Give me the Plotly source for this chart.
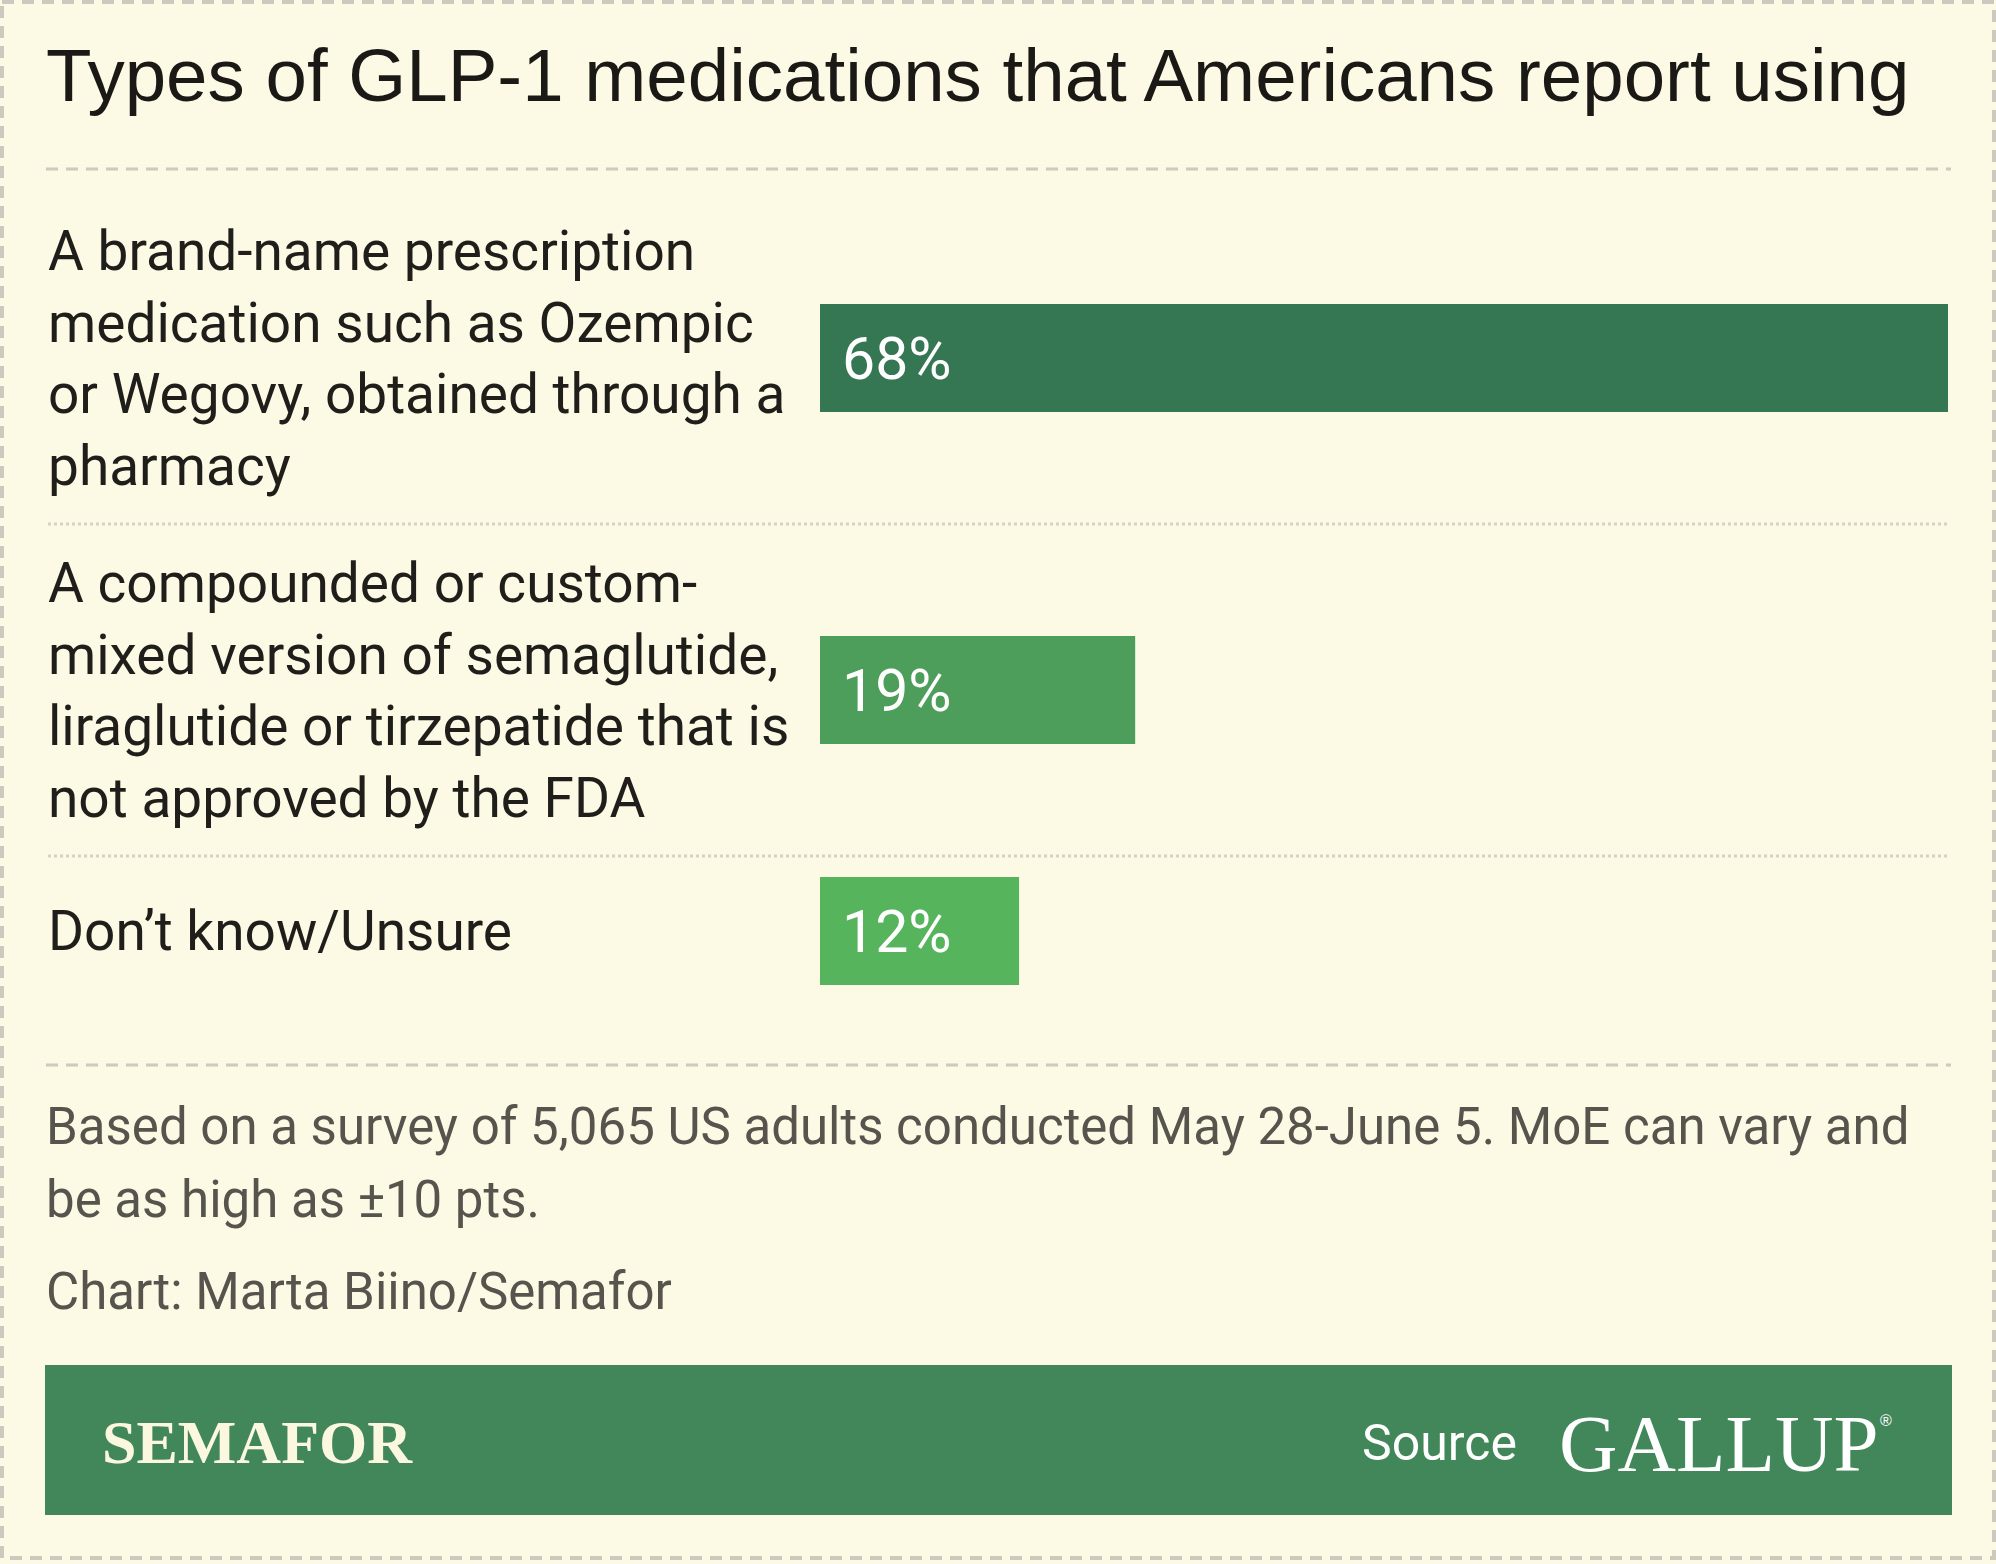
import plotly.graph_objects as go

# ---------------- data ----------------
categories = [
    "A brand-name prescription<br>medication such as Ozempic<br>or Wegovy, obtained through a<br>pharmacy",
    "A compounded or custom-<br>mixed version of semaglutide,<br>liraglutide or tirzepatide that is<br>not approved by the FDA",
    "Don’t know/Unsure",
]
values = [68, 19, 12]
value_labels = ["68%", "19%", "12%"]
bar_colors = ["#347752", "#4e9e5b", "#56b45d"]

title_text = "Types of GLP-1 medications that Americans report using"
note_lines = [
    "Based on a survey of 5,065 US adults conducted May 28-June 5. MoE can vary and",
    "be as high as ±10 pts.",
]
credit_text = "Chart: Marta Biino/Semafor"
brand_text = "SEMAFOR"
source_label = "Source"
source_name = "GALLUP"

# ---------------- layout helpers ----------------
W, H = 1996, 1564
BG = "#fcf9e4"
LABEL_FONT = "Roboto, 'IBM Plex Sans', sans-serif"


def px(x):
    return x / W


def py(y):
    return 1 - y / H


LINE_H = 72.5
BAR_H = 108
ROW_GAP = 42
top = 213
centers, seps = [], []
for i, c in enumerate(categories):
    n = c.count("<br>") + 1
    h = max(n * LINE_H, BAR_H)
    centers.append(top + h / 2)
    top += h
    if i < len(categories) - 1:
        seps.append(top + ROW_GAP / 2)
        top += ROW_GAP

fig = go.Figure(
    go.Bar(
        x=values,
        y=centers,
        orientation="h",
        width=BAR_H,
        marker=dict(color=bar_colors, line=dict(width=0)),
        hoverinfo="skip",
    )
)

fig.update_layout(
    width=W,
    height=H,
    margin=dict(l=0, r=0, t=0, b=0),
    paper_bgcolor=BG,
    plot_bgcolor="rgba(0,0,0,0)",
    showlegend=False,
    xaxis=dict(domain=[px(820), px(1948)], range=[0, max(values)], visible=False, fixedrange=True),
    yaxis=dict(domain=[0, 1], range=[H, 0], visible=False, fixedrange=True),
)

shapes = []
# outer dashed border
shapes.append(dict(type="rect", xref="paper", yref="paper", x0=px(2), x1=px(W - 2), y0=py(2), y1=py(1558),
                   line=dict(color="#ccc9bf", width=4, dash="12px,8px"), fillcolor="rgba(0,0,0,0)"))
# title separator and bottom separator (dashed)
for yy in (169, 1065):
    shapes.append(dict(type="line", xref="paper", yref="paper", x0=px(46), x1=px(1951), y0=py(yy), y1=py(yy),
                       line=dict(color="#cdcac0", width=3, dash="12px,8px")))
# row separators (dotted)
for s in seps:
    shapes.append(dict(type="line", xref="paper", yref="paper", x0=px(48), x1=px(1948), y0=py(s), y1=py(s),
                       line=dict(color="#d6d3c5", width=3, dash="3px,3px")))
# footer band
shapes.append(dict(type="rect", xref="paper", yref="paper", x0=px(45), x1=px(1952), y0=py(1515), y1=py(1365),
                   line=dict(width=0), fillcolor="#42875a", layer="below"))
fig.update_layout(shapes=shapes)

ann = []
ann.append(dict(text=title_text, xref="paper", yref="paper", x=px(44), y=py(76), xanchor="left", yanchor="middle",
                showarrow=False, font=dict(family="'Liberation Sans', Arial, sans-serif", size=74.5, color="#1a1916")))
for c, yc in zip(categories, centers):
    ann.append(dict(text=c, xref="paper", yref="y", x=px(46), y=yc, xanchor="left", yanchor="middle", align="left",
                    showarrow=False, font=dict(family=LABEL_FONT, size=55, color="#1f1e1a")))
for v, lab, yc in zip(values, value_labels, centers):
    ann.append(dict(text=lab, xref="x", yref="y", x=0, y=yc, xshift=20, xanchor="left", yanchor="middle",
                    showarrow=False, font=dict(family=LABEL_FONT, size=59, color="#ffffff")))
for t, yy in zip(note_lines + [credit_text], (1126, 1199, 1291)):
    ann.append(dict(text=t, xref="paper", yref="paper", x=px(44), y=py(yy), xanchor="left", yanchor="middle",
                    showarrow=False, font=dict(family=LABEL_FONT, size=51, color="#56544c")))
ann.append(dict(text="<b>" + brand_text + "</b>", xref="paper", yref="paper", x=px(100), y=py(1442), xanchor="left",
                yanchor="middle", showarrow=False,
                font=dict(family="'Liberation Serif', 'DejaVu Serif', serif", size=62, color="#fcf8e0")))
ann.append(dict(text=source_label, xref="paper", yref="paper", x=px(1360), y=py(1443), xanchor="left",
                yanchor="middle", showarrow=False, font=dict(family=LABEL_FONT, size=50, color="#ffffff")))
ann.append(dict(text=source_name, xref="paper", yref="paper", x=px(1557), y=py(1444), xanchor="left",
                yanchor="middle", showarrow=False,
                font=dict(family="'Liberation Serif', 'DejaVu Serif', serif", size=81, color="#ffffff")))
ann.append(dict(text="®", xref="paper", yref="paper", x=px(1878), y=py(1420), xanchor="left",
                yanchor="middle", showarrow=False,
                font=dict(family="'Liberation Sans', Arial, sans-serif", size=16, color="#ffffff")))
fig.update_layout(annotations=ann)

fig.write_html("out.html")
